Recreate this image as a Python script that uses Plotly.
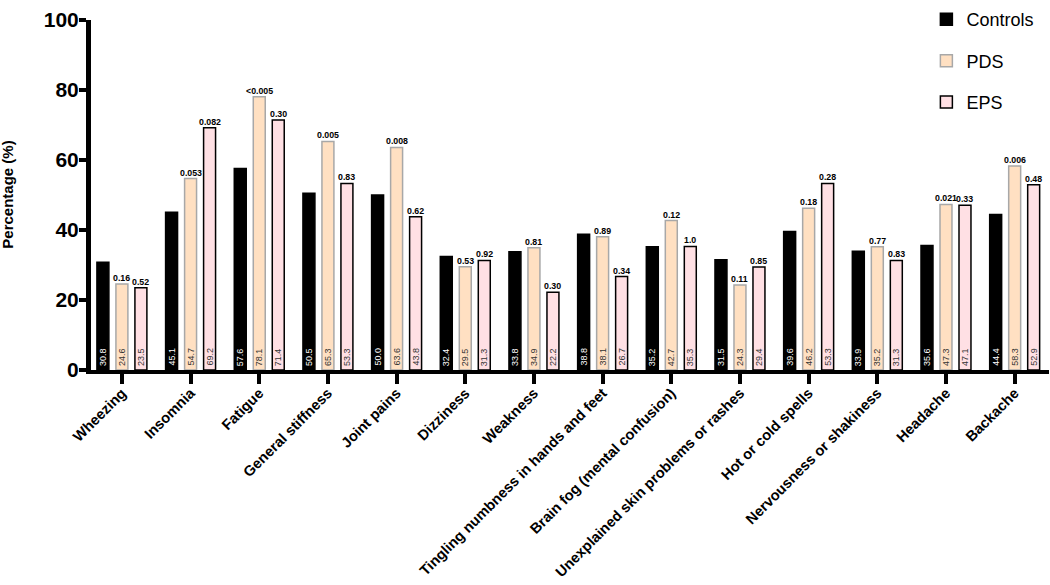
import plotly.graph_objects as go

categories = ["Wheezing", "Insomnia", "Fatigue", "General stiffness", "Joint pains",
              "Dizziness", "Weakness", "Tingling numbness in hands and feet",
              "Brain fog (mental confusion)", "Unexplained skin problems or rashes",
              "Hot or cold spells", "Nervousness or shakiness", "Headache", "Backache"]

controls = [30.8, 45.1, 57.6, 50.5, 50.0, 32.4, 33.8, 38.8, 35.2, 31.5, 39.6, 33.9, 35.6, 44.4]
pds = [24.6, 54.7, 78.1, 65.3, 63.6, 29.5, 34.9, 38.1, 42.7, 24.3, 46.2, 35.2, 47.3, 58.3]
eps = [23.5, 69.2, 71.4, 53.3, 43.8, 31.3, 22.2, 26.7, 35.3, 29.4, 53.3, 31.3, 47.1, 52.9]

pds_p = ["0.16", "0.053", "<0.005", "0.005", "0.008", "0.53", "0.81", "0.89", "0.12",
         "0.11", "0.18", "0.77", "0.021", "0.006"]
eps_p = ["0.52", "0.082", "0.30", "0.83", "0.62", "0.92", "0.30", "0.34", "1.0",
         "0.85", "0.28", "0.83", "0.33", "0.48"]

y_ticks = [0, 20, 40, 60, 80, 100]

FONT = "Arial, Liberation Sans, sans-serif"

fig = go.Figure()
series = [
    ("Controls", controls, "#000000", "#000000"),
    ("PDS", pds, "#FFE0C2", "#A8A8A8"),
    ("EPS", eps, "#FFE0E4", "#000000"),
]
for name, vals, fill, edge in series:
    fig.add_trace(go.Bar(
        x=categories, y=vals, name=name, legendgroup=name,
        marker=dict(color=fill, line=dict(color=edge, width=1.5)),
        hoverinfo="x+y",
    ))

slot_px = 19
annotations = []
text_cols = ["#FFFFFF", "#333333", "#333333"]
for k, (name, vals, fill, edge) in enumerate(series):
    for cat, v in zip(categories, vals):
        annotations.append(dict(
            x=cat, y=0, xref="x", yref="y", text=f"{v:.1f}", showarrow=False,
            textangle=-90, xanchor="center", yanchor="bottom",
            xshift=(k - 1) * slot_px, yshift=2,
            font=dict(family=FONT, size=9, color=text_cols[k]),
        ))
for k, (labels, vals) in enumerate([(pds_p, pds), (eps_p, eps)]):
    for cat, lab, v in zip(categories, labels, vals):
        annotations.append(dict(
            x=cat, y=v, xref="x", yref="y", text=lab, showarrow=False,
            xanchor="center", yanchor="bottom", xshift=k * slot_px, yshift=-1,
            font=dict(family=FONT, size=8.8, color="#000000", weight="bold"),
        ))
annotations.append(dict(
    x=-0.088, y=0.5, xref="paper", yref="paper", text="Percentage (%)",
    showarrow=False, textangle=-90, xanchor="center", yanchor="middle",
    font=dict(family=FONT, size=15, color="#000000", weight="bold"),
))

fig.update_layout(
    width=1050, height=585,
    margin=dict(l=91, r=1, t=8, b=215),
    paper_bgcolor="white", plot_bgcolor="white",
    barmode="group", bargap=0.17, bargroupgap=0.37,
    font=dict(family=FONT, color="#000000"),
    showlegend=True,
    legend=dict(x=0.872, y=1.054, xanchor="left", yanchor="top",
                font=dict(family=FONT, size=18, color="#000000"),
                tracegroupgap=15, bgcolor="rgba(0,0,0,0)"),
    annotations=annotations,
    xaxis=dict(
        range=[-0.45, 13.5], showline=True, linecolor="black", linewidth=4,
        ticks="outside", ticklen=10, tickwidth=4, tickcolor="black",
        tickangle=-45, showgrid=False, zeroline=False, automargin=False,
        ticklabelstandoff=-5,
        tickfont=dict(family=FONT, size=14.6, color="black", weight="bold"),
    ),
    yaxis=dict(
        range=[0, 100], tickvals=y_ticks, showline=True, linecolor="black",
        linewidth=5, ticks="outside", ticklen=7, tickwidth=4, tickcolor="black",
        showgrid=False, zeroline=False, automargin=False,
        ticklabeloverflow="allow", ticklabelstandoff=-4,
        tickfont=dict(family=FONT, size=21, color="black", weight="bold"),
    ),
)

fig.write_html("out.html", config={"displayModeBar": False},
               post_script="document.body.style.margin='0px';")
